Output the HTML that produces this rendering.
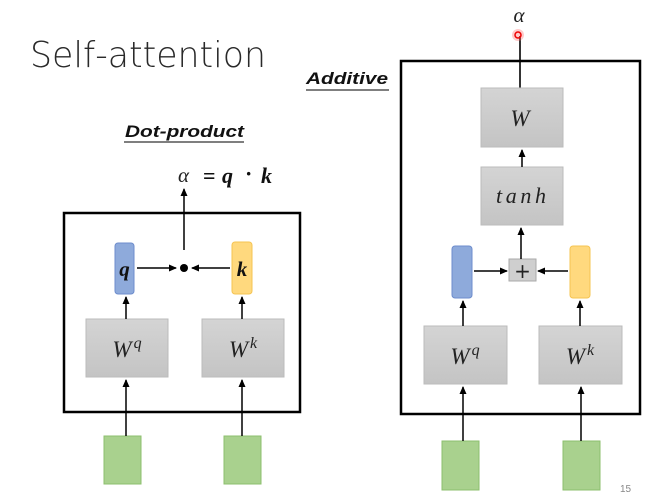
<!DOCTYPE html>
<html><head><meta charset="utf-8"><style>
html,body{margin:0;padding:0;background:#fff;}
svg{display:block;}
</style></head><body>
<svg width="661" height="499" viewBox="0 0 661 499" xmlns="http://www.w3.org/2000/svg">
<defs>
<marker id="ah" markerWidth="8" markerHeight="8" refX="7" refY="4" orient="auto" markerUnits="userSpaceOnUse">
<path d="M0,0.5 L8,4 L0,7.5 z" fill="#000"/>
</marker>
<linearGradient id="gr" x1="0" y1="0" x2="0" y2="1"><stop offset="0" stop-color="#d4d4d4"/><stop offset="1" stop-color="#c4c4c4"/></linearGradient>
</defs>
<text x="30" y="67" font-family="DejaVu Sans, sans-serif" font-weight="200" font-size="36" fill="#2a2a2a" textLength="236" lengthAdjust="spacingAndGlyphs">Self-attention</text>

<!-- Dot product -->
<text x="125" y="137" font-family="Liberation Sans, sans-serif" font-size="17" font-weight="bold" font-style="italic" fill="#111" textLength="119" lengthAdjust="spacingAndGlyphs">Dot-product</text>
<line x1="124" y1="142" x2="244" y2="142" stroke="#333" stroke-width="1.3"/>
<text x="178" y="182" font-family="Liberation Serif, serif" font-size="21" font-style="italic" fill="#222">α</text>
<text x="203" y="183" font-family="Liberation Serif, serif" font-size="22" font-weight="bold" fill="#111">=</text>
<text x="222" y="183" font-family="Liberation Serif, serif" font-size="22" font-weight="bold" font-style="italic" fill="#111">q</text>
<text x="245" y="181" font-family="Liberation Serif, serif" font-size="22" font-weight="bold" fill="#111">·</text>
<text x="261" y="183" font-family="Liberation Serif, serif" font-size="22" font-weight="bold" font-style="italic" fill="#111">k</text>
<rect x="64" y="213" width="236" height="199" fill="none" stroke="#000" stroke-width="2.5"/>
<line x1="184" y1="250" x2="184" y2="189" stroke="#000" stroke-width="1.5" marker-end="url(#ah)"/>
<rect x="115" y="243" width="19" height="51" rx="3" fill="#8eaadb" stroke="#6d8ccc"/>
<text x="124.5" y="276" text-anchor="middle" font-family="Liberation Serif, serif" font-size="21" font-weight="bold" font-style="italic" fill="#111">q</text>
<rect x="232" y="242" width="20" height="52" rx="3" fill="#ffd97e" stroke="#f5c452"/>
<text x="242" y="276" text-anchor="middle" font-family="Liberation Serif, serif" font-size="21" font-weight="bold" font-style="italic" fill="#111">k</text>
<circle cx="184" cy="268" r="4" fill="#000"/>
<line x1="137" y1="268" x2="176" y2="268" stroke="#000" stroke-width="1.5" marker-end="url(#ah)"/>
<line x1="230" y1="268" x2="192" y2="268" stroke="#000" stroke-width="1.5" marker-end="url(#ah)"/>
<rect x="86" y="319" width="82" height="58" fill="url(#gr)" stroke="#bbb"/>
<text x="127" y="357" text-anchor="middle" font-family="Liberation Serif, serif" font-size="23" font-style="italic" fill="#222">W<tspan dx="2" dy="-9" font-size="16">q</tspan></text>
<rect x="202" y="319" width="82" height="58" fill="url(#gr)" stroke="#bbb"/>
<text x="243" y="357" text-anchor="middle" font-family="Liberation Serif, serif" font-size="23" font-style="italic" fill="#222">W<tspan dx="2" dy="-9" font-size="16">k</tspan></text>
<line x1="126" y1="319" x2="126" y2="297" stroke="#000" stroke-width="1.5" marker-end="url(#ah)"/>
<line x1="242" y1="319" x2="242" y2="297" stroke="#000" stroke-width="1.5" marker-end="url(#ah)"/>
<rect x="104" y="436" width="37" height="48" fill="#a9d18e" stroke="#8cbf6e"/>
<rect x="224" y="436" width="37" height="48" fill="#a9d18e" stroke="#8cbf6e"/>
<line x1="126" y1="436" x2="126" y2="380" stroke="#000" stroke-width="1.5" marker-end="url(#ah)"/>
<line x1="242" y1="436" x2="242" y2="380" stroke="#000" stroke-width="1.5" marker-end="url(#ah)"/>

<!-- Additive -->
<text x="306" y="84" font-family="Liberation Sans, sans-serif" font-size="17" font-weight="bold" font-style="italic" fill="#111" textLength="82" lengthAdjust="spacingAndGlyphs">Additive</text>
<line x1="306" y1="90" x2="389" y2="90" stroke="#333" stroke-width="1.3"/>
<text x="519" y="22" text-anchor="middle" font-family="Liberation Serif, serif" font-size="21" font-style="italic" fill="#222">α</text>
<rect x="401" y="61" width="239" height="353" fill="none" stroke="#000" stroke-width="2.5"/>
<line x1="520" y1="88" x2="520" y2="36" stroke="#000" stroke-width="1.6"/>
<circle cx="518" cy="35" r="6" fill="#ff6666" opacity="0.35"/>
<circle cx="518" cy="35" r="3" fill="none" stroke="#e00" stroke-width="1.5"/>
<rect x="481" y="88" width="82" height="59" fill="url(#gr)" stroke="#bbb"/>
<text x="520" y="126" text-anchor="middle" font-family="Liberation Serif, serif" font-size="23" font-style="italic" fill="#222">W</text>
<rect x="481" y="167" width="82" height="58" fill="url(#gr)" stroke="#bbb"/>
<text x="521" y="203" text-anchor="middle" font-family="Liberation Serif, serif" font-size="22" font-style="italic" fill="#222" textLength="50" lengthAdjust="spacing">tanh</text>
<line x1="522" y1="167" x2="522" y2="150" stroke="#000" stroke-width="1.5" marker-end="url(#ah)"/>
<rect x="509" y="259" width="27" height="22" fill="#cfcfcf" stroke="#aaa"/>
<text x="522.5" y="278" text-anchor="middle" font-family="DejaVu Sans, sans-serif" font-size="20" fill="#222">+</text>
<line x1="521" y1="259" x2="521" y2="228" stroke="#000" stroke-width="1.5" marker-end="url(#ah)"/>
<rect x="452" y="246" width="20" height="52" rx="3" fill="#8eaadb" stroke="#6d8ccc"/>
<rect x="570" y="246" width="20" height="52" rx="3" fill="#ffd97e" stroke="#f5c452"/>
<line x1="474" y1="271" x2="507" y2="271" stroke="#000" stroke-width="1.5" marker-end="url(#ah)"/>
<line x1="568" y1="271" x2="538" y2="271" stroke="#000" stroke-width="1.5" marker-end="url(#ah)"/>
<rect x="424" y="326" width="83" height="58" fill="url(#gr)" stroke="#bbb"/>
<text x="465" y="364" text-anchor="middle" font-family="Liberation Serif, serif" font-size="23" font-style="italic" fill="#222">W<tspan dx="2" dy="-9" font-size="16">q</tspan></text>
<rect x="539" y="326" width="83" height="58" fill="url(#gr)" stroke="#bbb"/>
<text x="580" y="364" text-anchor="middle" font-family="Liberation Serif, serif" font-size="23" font-style="italic" fill="#222">W<tspan dx="2" dy="-9" font-size="16">k</tspan></text>
<line x1="463" y1="326" x2="463" y2="301" stroke="#000" stroke-width="1.5" marker-end="url(#ah)"/>
<line x1="580" y1="326" x2="580" y2="301" stroke="#000" stroke-width="1.5" marker-end="url(#ah)"/>
<rect x="442" y="441" width="37" height="49" fill="#a9d18e" stroke="#8cbf6e"/>
<rect x="563" y="441" width="37" height="49" fill="#a9d18e" stroke="#8cbf6e"/>
<line x1="463" y1="441" x2="463" y2="387" stroke="#000" stroke-width="1.5" marker-end="url(#ah)"/>
<line x1="581" y1="441" x2="581" y2="387" stroke="#000" stroke-width="1.5" marker-end="url(#ah)"/>
<text x="620" y="492" font-family="Liberation Sans, sans-serif" font-size="10" fill="#888">15</text>
</svg>
</body></html>
